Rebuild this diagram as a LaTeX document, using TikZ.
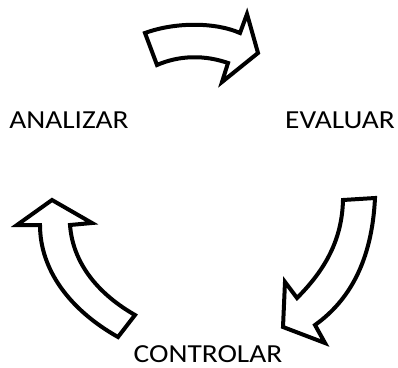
\documentclass[tikz,border=0pt]{standalone}
\usepackage{fontspec}
\setmainfont{Carlito}
\usetikzlibrary{positioning}

\begin{document}
\begin{tikzpicture}[x=1pt, y=-1pt]
        \tikzstyle{stage} = [anchor=base, inner sep=0pt, xscale=1.13, transform shape, font=\fontsize{26}{30}\selectfont]
        \tikzstyle{bigarrow} = [draw=black, fill=white, line width=4pt, line join=miter]

        \useasboundingbox (0,0) rectangle (398,367);

        \node (analizar) [stage] at (69,128) {ANALIZAR};
        \node (evaluar) [stage] at (340,128) {EVALUAR};
        \node (controlar) [stage] at (208,362) {CONTROLAR};

        % analizar -> evaluar
        \draw [bigarrow] (145,33) .. controls (175,22) and (215,22) .. (240,33) -- (247,14) -- (258,53) -- (222,82) -- (228,63)
            .. controls (205,55) and (180,55) .. (157,65) -- cycle;
        % evaluar -> controlar
        \draw [bigarrow] (343,200) -- (375,198) .. controls (372,260) and (350,300) .. (315,325) -- (325,343) -- (283,327) -- (285,282) -- (297,298)
            .. controls (325,270) and (342,240) .. (343,200) -- cycle;
        % controlar -> analizar
        \draw [bigarrow] (52,200) -- (92,223) -- (70,225) .. controls (73,265) and (100,295) .. (135,315) -- (118,337)
            .. controls (70,310) and (40,270) .. (40,225) -- (17,225) -- cycle;
    \end{tikzpicture}
\end{document}
